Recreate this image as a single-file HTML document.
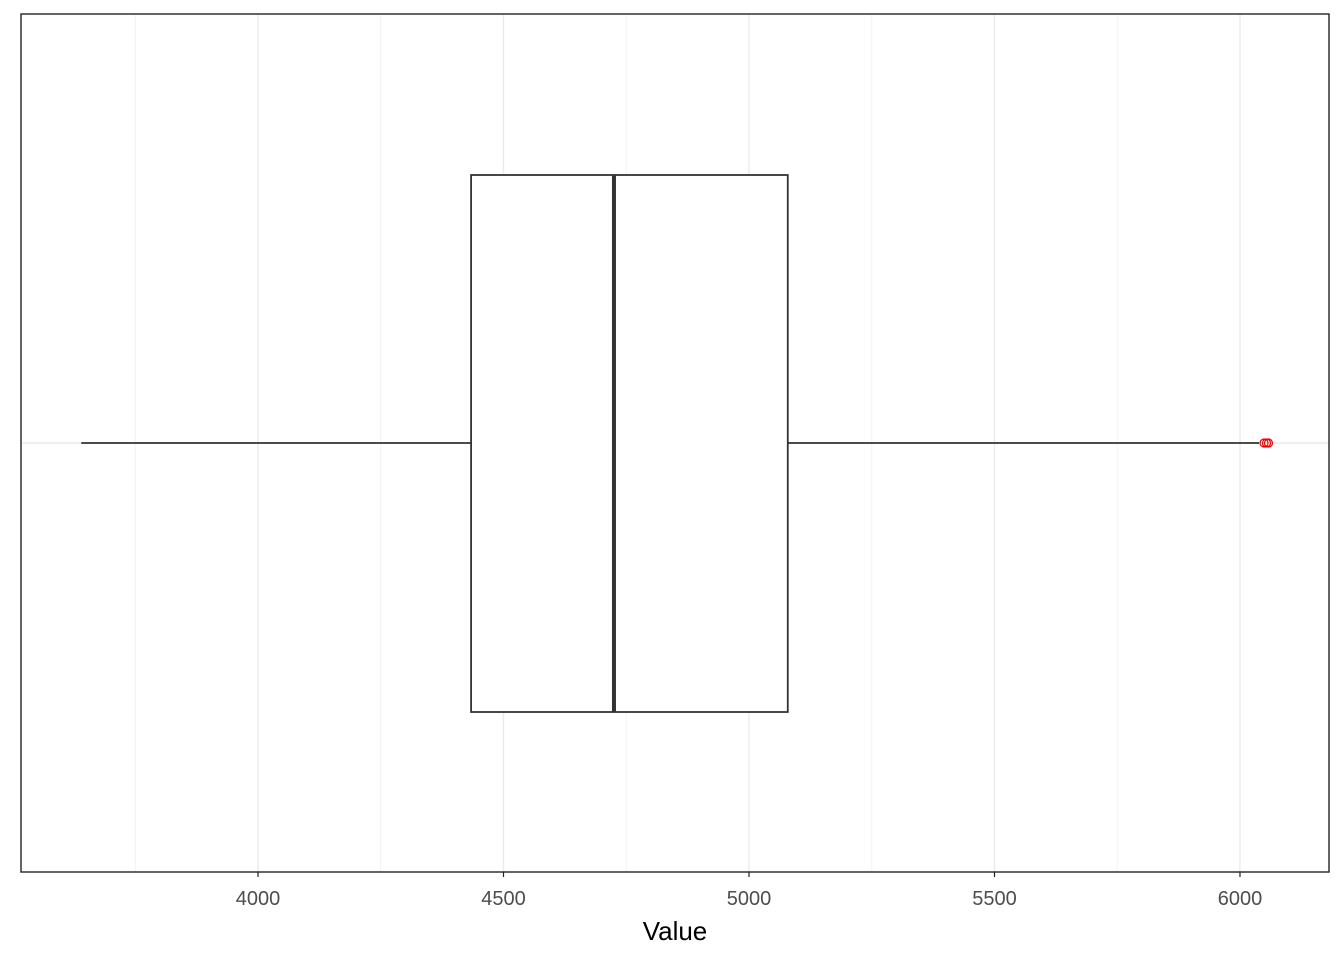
<!DOCTYPE html>
<html><head><meta charset="utf-8"><style>body{margin:0;background:#fff}svg{display:block}</style></head>
<body>
<svg id="chart" width="1344" height="960" xmlns="http://www.w3.org/2000/svg" font-family="Liberation Sans, sans-serif"></svg>
<script>
const stats = [3640, 4434, 4725, 5079, 6039]; // min, q1, median, q3, max whisker
const outliers = [6049, 6054, 6058];
const majorTicks = [4000, 4500, 5000, 5500, 6000];
const minorTicks = [3750, 4250, 4750, 5250, 5750];
const domain = [3517.3, 6181.3];
const L=21,R=1329,T=14,B=872;
const svg=document.getElementById('chart');
const NS='http://www.w3.org/2000/svg';
function x(v){return L+(v-domain[0])/(domain[1]-domain[0])*(R-L);}
function mk(tag,attrs,parent){const e=document.createElementNS(NS,tag);for(const k in attrs)e.setAttribute(k,attrs[k]);(parent||svg).appendChild(e);return e;}
const yc=443, bt=175, bb=712;
minorTicks.forEach(v=>{const l=mk('line',{x1:x(v),x2:x(v),y1:T,y2:B,stroke:'#f2f2f2','stroke-width':1});

});
majorTicks.forEach(v=>{const l=mk('line',{x1:x(v),x2:x(v),y1:T,y2:B,stroke:'#ebebeb','stroke-width':1.4});

});
const hg=mk('line',{x1:L,x2:R,y1:yc,y2:yc,stroke:'#ebebeb','stroke-width':1.4});


const w1=mk('line',{x1:x(stats[0]),x2:x(stats[1]),y1:yc,y2:yc,stroke:'#333','stroke-width':1.8});


const w2=mk('line',{x1:x(stats[3]),x2:x(stats[4]),y1:yc,y2:yc,stroke:'#333','stroke-width':1.8});


const box=mk('rect',{x:x(stats[1]),y:bt,width:x(stats[3])-x(stats[1]),height:bb-bt,fill:'#fff',stroke:'#333','stroke-width':1.8});


const med=mk('line',{x1:x(stats[2]),x2:x(stats[2]),y1:bt,y2:bb,stroke:'#333','stroke-width':4});


outliers.forEach(v=>{const c=mk('circle',{cx:x(v),cy:yc,r:4,fill:'none',stroke:'#e00','stroke-width':1.2});

});
const fr=mk('rect',{x:L,y:T,width:R-L,height:B-T,fill:'none',stroke:'#222','stroke-width':1.4});


majorTicks.forEach(v=>{const t=mk('line',{x1:x(v),x2:x(v),y1:B,y2:B+5,stroke:'#222','stroke-width':1.2});


const tx=mk('text',{x:x(v),y:905,'text-anchor':'middle','font-size':'20',fill:'#4d4d4d'});tx.textContent=v;

});
const ti=mk('text',{x:(L+R)/2,y:940,'text-anchor':'middle','font-size':'26',fill:'#000'});ti.textContent='Value';


</script>
</body></html>
